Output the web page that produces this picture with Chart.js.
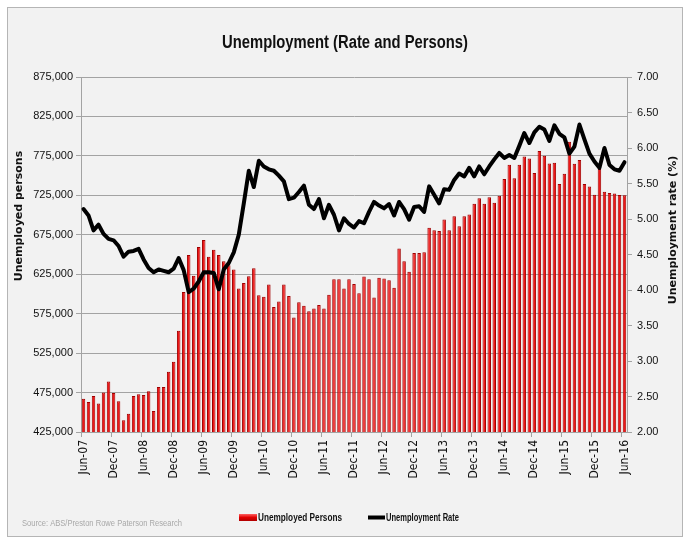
<!DOCTYPE html>
<html><head><meta charset="utf-8">
<script src="https://cdn.jsdelivr.net/npm/chart.js@4.4.1/dist/chart.umd.min.js"></script>
<style>html,body{margin:0;padding:0;background:#fff;}canvas{display:block;}</style>
</head><body>
<canvas id="c" width="689" height="539"></canvas>
<script>
const chartTitle = 'Unemployment (Rate and Persons)';
const leftAxisTitle = 'Unemployed persons';
const rightAxisTitle = 'Unemployment rate (%)';
const sourceText = 'Source: ABS/Preston Rowe Paterson Research';
const seriesNames = ['Unemployed Persons', 'Unemployment Rate'];

const monthNames = ['Jan','Feb','Mar','Apr','May','Jun','Jul','Aug','Sep','Oct','Nov','Dec'];
const tickLabels = ['Jun-07','Dec-07','Jun-08','Dec-08','Jun-09','Dec-09','Jun-10','Dec-10','Jun-11','Dec-11',
  'Jun-12','Dec-12','Jun-13','Dec-13','Jun-14','Dec-14','Jun-15','Dec-15','Jun-16'];

const unemployedPersons = [
  467000,463000,470500,461000,475000,489000,474500,464000,440000,448000,
  470500,473000,472000,476500,451500,482000,482000,501500,514000,553500,
  602500,649500,623000,659500,668500,647000,656000,649500,641500,636500,
  631000,607000,614000,622500,632500,598500,596500,612000,583500,590500,
  612000,597500,570000,589500,585000,578000,581500,586000,581500,599000,
  618500,618500,607000,618500,612500,601000,622000,618500,595500,620500,
  619500,617500,608000,657500,641500,628000,652000,652000,653000,684000,
  680700,679700,694500,680800,698500,685700,698500,700700,714200,721400,
  714200,722500,715500,724500,745700,763800,746700,763800,774200,771800,
  753300,781300,775100,765200,766200,739500,752400,792800,764900,769800,
  739500,736200,725600,758400,729500,728000,727300,725500,725000
];
const unemploymentRate = [
  5.14,5.05,4.84,4.92,4.79,4.72,4.70,4.62,4.47,4.54,
  4.55,4.58,4.43,4.31,4.25,4.29,4.27,4.25,4.30,4.45,
  4.28,3.97,4.02,4.12,4.25,4.25,4.24,4.01,4.29,4.38,
  4.53,4.78,5.22,5.68,5.45,5.82,5.74,5.70,5.68,5.61,
  5.53,5.28,5.30,5.38,5.47,5.20,5.14,5.28,5.01,5.20,
  5.06,4.84,5.01,4.93,4.88,4.97,4.94,5.10,5.24,5.19,
  5.15,5.21,5.05,5.24,5.14,4.99,5.17,5.18,5.10,5.46,
  5.34,5.22,5.42,5.41,5.55,5.64,5.60,5.72,5.60,5.74,
  5.63,5.74,5.84,5.93,5.86,5.90,5.86,6.03,6.21,6.07,
  6.22,6.30,6.26,6.10,6.32,6.20,6.15,5.92,6.02,6.33,
  6.12,5.92,5.81,5.72,6.00,5.76,5.70,5.68,5.80
];

const categories = [];
for (let k = 0; k < unemployedPersons.length; k++) {
  const m = (5 + k) % 12;
  const y = 7 + Math.floor((5 + k) / 12);
  categories.push(monthNames[m] + '-' + String(y).padStart(2, '0'));
}

const COND = "'DejaVu Sans Condensed',sans-serif";
const SANS = "'Liberation Sans',Arial,sans-serif";
const WIDE = "'DejaVu Sans',Verdana,sans-serif";
const GRID = '#a3a3a3';

function fitText(c, text, x, y, width, align) {
  const w = c.measureText(text).width;
  const s = width / w;
  c.save();
  c.translate(x, y);
  c.scale(s, 1);
  c.textAlign = 'left';
  const x0 = align === 'center' ? -w / 2 : 0;
  c.fillText(text, x0, 0);
  c.restore();
}

const decor = {
  id: 'decor',
  beforeDraw(chart) {
    const c = chart.ctx;
    c.save();
    c.fillStyle = '#ffffff';
    c.fillRect(0, 0, chart.width, chart.height);
    c.fillStyle = '#f2f2f2';
    c.fillRect(7, 7, 676, 530);
    c.strokeStyle = '#b5b5b5';
    c.lineWidth = 1;
    c.strokeRect(7.5, 7.5, 675, 529);
    c.restore();
  },
  afterDraw(chart) {
    const c = chart.ctx;
    c.save();
    c.fillStyle = '#111';
    c.textBaseline = 'middle';
    c.font = "bold 18px " + SANS;
    fitText(c, chartTitle, 345, 43, 246, 'center');

    c.textAlign = 'center';
    c.font = "bold 11px " + WIDE;
    c.save();
    c.translate(19, 216);
    c.rotate(-Math.PI / 2);
    c.fillText(leftAxisTitle, 0, 0);
    c.restore();
    c.save();
    c.translate(673, 230);
    c.rotate(-Math.PI / 2);
    c.fillText(rightAxisTitle, 0, 0);
    c.restore();

    // legend
    c.font = "bold 11px " + SANS;
    const g = c.createLinearGradient(0, 514, 0, 521);
    g.addColorStop(0, '#ff6060'); g.addColorStop(0.5, '#e00000'); g.addColorStop(1, '#b00000');
    c.fillStyle = g;
    c.fillRect(239, 514, 18, 7);
    c.fillStyle = '#111';
    fitText(c, seriesNames[0], 258, 518, 84, 'left');
    c.strokeStyle = '#000';
    c.lineWidth = 4;
    c.beginPath(); c.moveTo(368, 517.5); c.lineTo(385, 517.5); c.stroke();
    fitText(c, seriesNames[1], 386, 518, 73, 'left');

    c.fillStyle = '#a8a8a8';
    c.font = "9px " + SANS;
    fitText(c, sourceText, 22, 524, 160, 'left');
    c.restore();
  }
};

new Chart(document.getElementById('c'), {
  data: {
    labels: categories,
    datasets: [
      {
        type: 'line', label: seriesNames[1], data: unemploymentRate, yAxisID: 'y1', order: 0,
        borderColor: '#000', borderWidth: 4, pointRadius: 0, tension: 0,
        borderJoinStyle: 'round', borderCapStyle: 'round', fill: false
      },
      {
        type: 'bar', label: seriesNames[0], data: unemployedPersons, yAxisID: 'y', order: 1,
        backgroundColor: '#f01818', borderColor: '#a00000', borderWidth: 1, borderSkipped: 'bottom',
        barPercentage: 0.7, categoryPercentage: 1
      }
    ]
  },
  options: {
    responsive: false, animation: false, devicePixelRatio: 1,
    layout: { padding: { top: 77, left: 0, right: 0, bottom: 0 } },
    plugins: { legend: { display: false }, tooltip: { enabled: false }, title: { display: false } },
    scales: {
      x: {
        offset: true,
        afterFit(s) { s.height = 107; },
        grid: {
          offset: true, drawOnChartArea: false, drawTicks: true, tickLength: 5,
          color: (ctx) => (ctx.index % 6 === 0 ? GRID : 'rgba(0,0,0,0)')
        },
        border: { color: GRID },
        ticks: {
          autoSkip: false, minRotation: 90, maxRotation: 90, padding: 3,
          color: '#111', font: { family: COND, size: 12 },
          callback: (v, i) => (tickLabels.includes(categories[i]) ? categories[i] : '')
        }
      },
      y: {
        position: 'left', min: 425000, max: 875000,
        afterFit(s) { s.width = 81; },
        grid: { color: GRID, tickLength: 5 },
        border: { color: GRID },
        ticks: {
          stepSize: 50000, padding: 3, color: '#111', font: { family: SANS, size: 11 },
          callback: (v) => v.toLocaleString('en-US')
        }
      },
      y1: {
        position: 'right', min: 2, max: 7,
        afterFit(s) { s.width = 62; },
        grid: { drawOnChartArea: false, color: GRID, tickLength: 5 },
        border: { color: GRID },
        ticks: {
          stepSize: 0.5, padding: 5, color: '#111', font: { family: SANS, size: 11 },
          callback: (v) => Number(v).toFixed(2)
        }
      }
    }
  },
  plugins: [decor]
});
</script>
</body></html>
